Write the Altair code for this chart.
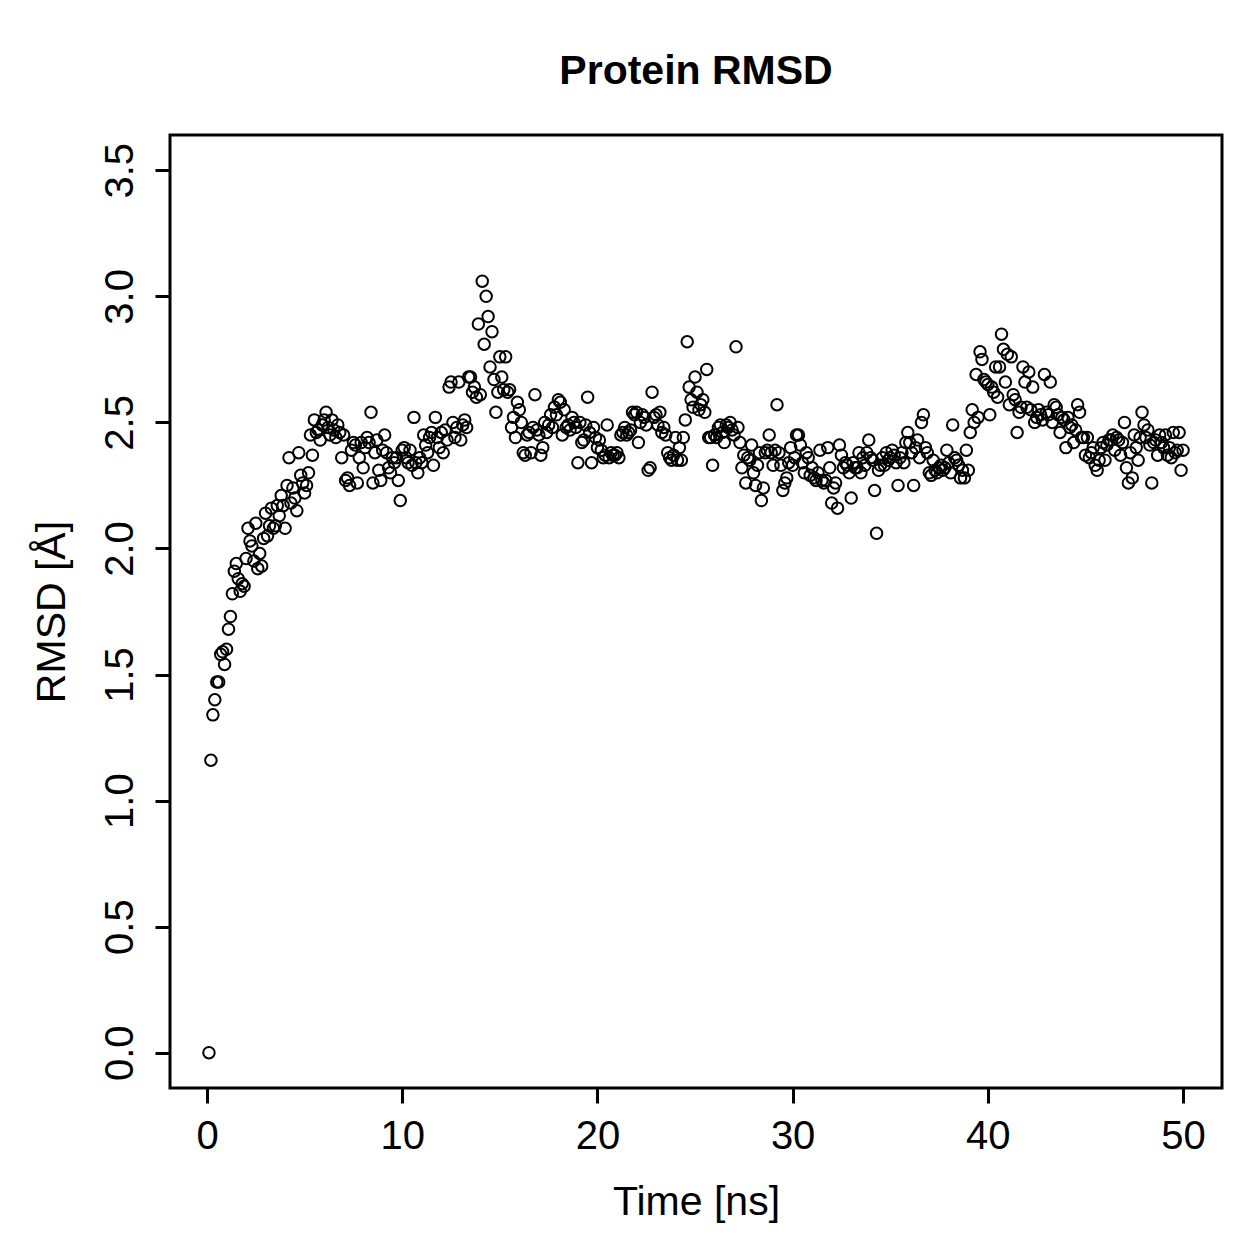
import altair as alt
import pandas as pd

# RMSD of the protein backbone, one frame every 0.1 ns (t = 0.1 ... 50.0)
rmsd_blocks = [
    [0.00, 1.16, 1.34, 1.40, 1.47, 1.47, 1.58, 1.59, 1.54, 1.60],
    [1.68, 1.73, 1.82, 1.91, 1.94, 1.88, 1.83, 1.86, 1.85, 1.96],
    [2.08, 2.03, 2.01, 1.95, 2.10, 1.92, 1.98, 1.93, 2.04, 2.14],
    [2.05, 2.09, 2.16, 2.08, 2.09, 2.17, 2.13, 2.21, 2.17, 2.08],
    [2.25, 2.36, 2.18, 2.24, 2.20, 2.15, 2.38, 2.29, 2.26, 2.22],
    [2.25, 2.30, 2.45, 2.37, 2.51, 2.46, 2.47, 2.43, 2.49, 2.51],
    [2.54, 2.48, 2.45, 2.51, 2.47, 2.44, 2.49, 2.46, 2.36, 2.45],
    [2.27, 2.28, 2.25, 2.39, 2.42, 2.41, 2.26, 2.36, 2.42, 2.32],
    [2.40, 2.44, 2.42, 2.54, 2.26, 2.38, 2.43, 2.31, 2.27, 2.39],
    [2.45, 2.38, 2.32, 2.30, 2.36, 2.34, 2.36, 2.27, 2.19, 2.39],
    [2.40, 2.36, 2.34, 2.39, 2.33, 2.52, 2.34, 2.30, 2.36, 2.34],
    [2.45, 2.41, 2.38, 2.44, 2.46, 2.33, 2.52, 2.44, 2.40, 2.46],
    [2.38, 2.47, 2.43, 2.64, 2.66, 2.50, 2.44, 2.48, 2.66, 2.43],
    [2.49, 2.51, 2.48, 2.68, 2.68, 2.62, 2.64, 2.60, 2.89, 2.61],
    [3.06, 2.81, 3.00, 2.92, 2.72, 2.86, 2.67, 2.54, 2.62, 2.76],
    [2.68, 2.63, 2.76, 2.62, 2.63, 2.48, 2.52, 2.44, 2.58, 2.55],
    [2.50, 2.38, 2.37, 2.45, 2.46, 2.38, 2.48, 2.61, 2.47, 2.45],
    [2.37, 2.40, 2.50, 2.46, 2.49, 2.53, 2.48, 2.56, 2.53, 2.59],
    [2.58, 2.45, 2.55, 2.48, 2.49, 2.47, 2.52, 2.50, 2.48, 2.34],
    [2.50, 2.42, 2.43, 2.49, 2.60, 2.46, 2.34, 2.48, 2.44, 2.40],
    [2.43, 2.39, 2.36, 2.37, 2.49, 2.36, 2.38, 2.37, 2.37, 2.38],
    [2.36, 2.45, 2.46, 2.48, 2.45, 2.46, 2.47, 2.54, 2.53, 2.54],
    [2.42, 2.50, 2.53, 2.52, 2.49, 2.31, 2.32, 2.62, 2.52, 2.53],
    [2.49, 2.54, 2.46, 2.48, 2.45, 2.38, 2.36, 2.35, 2.37, 2.44],
    [2.35, 2.40, 2.35, 2.44, 2.51, 2.82, 2.64, 2.59, 2.56, 2.68],
    [2.62, 2.55, 2.57, 2.59, 2.54, 2.71, 2.44, 2.44, 2.33, 2.45],
    [2.44, 2.48, 2.49, 2.46, 2.42, 2.49, 2.48, 2.50, 2.47, 2.45],
    [2.80, 2.48, 2.42, 2.32, 2.37, 2.26, 2.36, 2.35, 2.41, 2.30],
    [2.25, 2.33, 2.38, 2.19, 2.24, 2.38, 2.39, 2.45, 2.38, 2.33],
    [2.39, 2.57, 2.38, 2.33, 2.23, 2.26, 2.28, 2.34, 2.40, 2.33],
    [2.36, 2.45, 2.45, 2.41, 2.34, 2.30, 2.38, 2.36, 2.29, 2.32],
    [2.28, 2.27, 2.30, 2.39, 2.27, 2.26, 2.27, 2.40, 2.32, 2.18],
    [2.24, 2.26, 2.16, 2.41, 2.37, 2.32, 2.34, 2.33, 2.30, 2.20],
    [2.34, 2.32, 2.32, 2.38, 2.30, 2.36, 2.33, 2.38, 2.43, 2.36],
    [2.35, 2.23, 2.06, 2.31, 2.33, 2.36, 2.33, 2.38, 2.35, 2.36],
    [2.39, 2.37, 2.34, 2.25, 2.36, 2.38, 2.34, 2.42, 2.46, 2.42],
    [2.38, 2.25, 2.40, 2.43, 2.36, 2.50, 2.53, 2.40, 2.38, 2.30],
    [2.29, 2.35, 2.31, 2.30, 2.32, 2.33, 2.31, 2.32, 2.39, 2.34],
    [2.30, 2.49, 2.36, 2.35, 2.33, 2.28, 2.31, 2.28, 2.39, 2.31],
    [2.46, 2.55, 2.50, 2.69, 2.52, 2.78, 2.75, 2.67, 2.66, 2.65],
    [2.53, 2.64, 2.62, 2.72, 2.60, 2.72, 2.85, 2.79, 2.66, 2.77],
    [2.57, 2.76, 2.61, 2.59, 2.46, 2.54, 2.56, 2.72, 2.66, 2.56],
    [2.70, 2.55, 2.64, 2.50, 2.52, 2.55, 2.53, 2.51, 2.69, 2.54],
    [2.53, 2.66, 2.50, 2.57, 2.56, 2.53, 2.46, 2.52, 2.51, 2.40],
    [2.52, 2.48, 2.49, 2.42, 2.47, 2.57, 2.54, 2.44, 2.44, 2.37],
    [2.44, 2.36, 2.38, 2.40, 2.33, 2.31, 2.35, 2.40, 2.42, 2.35],
    [2.41, 2.43, 2.43, 2.45, 2.39, 2.44, 2.43, 2.37, 2.42, 2.50],
    [2.32, 2.26, 2.38, 2.28, 2.45, 2.40, 2.35, 2.44, 2.54, 2.49],
    [2.44, 2.47, 2.41, 2.26, 2.42, 2.43, 2.37, 2.45, 2.42, 2.40],
    [2.45, 2.37, 2.40, 2.36, 2.46, 2.38, 2.39, 2.46, 2.31, 2.39],
]
rmsd = [v for block in rmsd_blocks for v in block]
time_ns = [round(0.1 * (i + 1), 1) for i in range(len(rmsd))]

x_ticks = [0, 10, 20, 30, 40, 50]
y_ticks = [0.0, 0.5, 1.0, 1.5, 2.0, 2.5, 3.0, 3.5]

df = pd.DataFrame({"time": time_ns, "rmsd": rmsd})

FONT = "Liberation Sans"
FS = 40
FS_TITLE = 41

x_axis = alt.Axis(
    values=x_ticks, format="d", title="Time [ns]", domain=False, grid=False,
    ticks=True, tickColor="black", tickWidth=3, tickSize=15,
    labelFont=FONT, labelFontSize=FS, labelColor="black", labelPadding=13,
    labelBaseline="top", labelFlush=False, labelOverlap=False,
    titleFont=FONT, titleFontSize=FS_TITLE, titleFontWeight="normal", titleColor="black",
    titleX=526, titleY=126, titleAlign="center", titleBaseline="alphabetic",
)
y_axis = alt.Axis(
    values=y_ticks, format=".1f", title="RMSD [Å]", domain=False, grid=False,
    ticks=True, tickColor="black", tickWidth=3, tickSize=15,
    labelFont=FONT, labelFontSize=FS, labelColor="black", labelPadding=23,
    labelAngle=270, labelAlign="center", labelBaseline="alphabetic",
    labelFlush=False, labelOverlap=False,
    titleFont=FONT, titleFontSize=FS_TITLE, titleFontWeight="normal", titleColor="black",
    titleAngle=270, titleX=-106, titleY=476.5, titleAlign="center",
    titleBaseline="alphabetic",
)

points = alt.Chart(df).mark_point(
    shape="circle", filled=False, color="black", size=132, strokeWidth=2, opacity=1
).encode(
    x=alt.X("time:Q", scale=alt.Scale(domain=[-1.896, 51.996], nice=False, zero=False), axis=x_axis),
    y=alt.Y("rmsd:Q", scale=alt.Scale(domain=[-0.14, 3.64], nice=False, zero=False), axis=y_axis),
)

chart = points.properties(
    width=1052,
    height=953,
    background="white",
    title=alt.TitleParams(
        "Protein RMSD", font=FONT, fontSize=41, fontWeight="bold", color="black",
        anchor="middle", frame="group", baseline="alphabetic", offset=10,
    ),
    autosize=alt.AutoSizeParams(type="none"),
    padding={"left": 170, "top": 135, "right": 37, "bottom": 171},
).configure_view(stroke="black", strokeWidth=3)

chart.save("out.html", embed_options={"renderer": "svg", "actions": False})
